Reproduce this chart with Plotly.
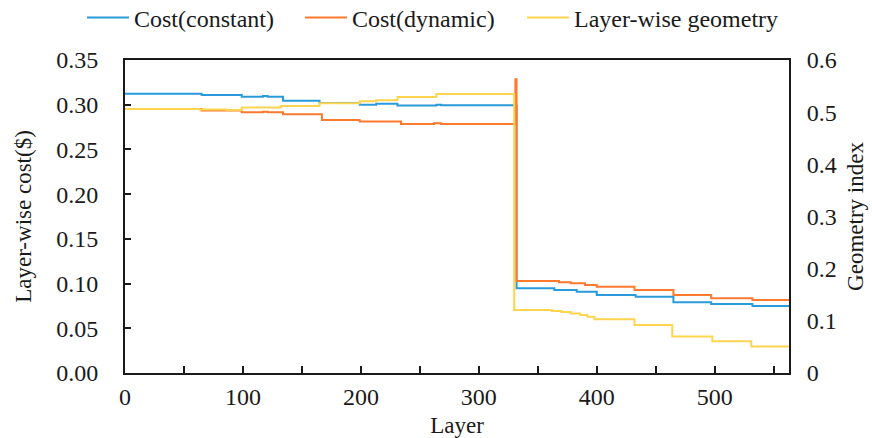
import plotly.graph_objects as go

# ---- data (step breakpoints) ----
const_layers = [0, 65, 99, 117, 121, 134, 165, 199, 213, 231, 264, 268, 332, 364, 383, 400, 433, 465, 497, 532, 563]
const_cost   = [0.3123, 0.3108, 0.3090, 0.3098, 0.3090, 0.3045, 0.3020, 0.3000, 0.3012, 0.2990, 0.3000, 0.2995,
                0.0947, 0.0928, 0.0909, 0.0872, 0.0853, 0.0792, 0.0771, 0.0749, 0.0749]

dyn_layers = [0, 65, 99, 117, 121, 134, 167, 199, 234, 262, 268, 331, 332, 368, 378, 390, 400, 432, 465, 497, 532, 563]
dyn_cost   = [0.2952, 0.2935, 0.2915, 0.2922, 0.2915, 0.2892, 0.2830, 0.2812, 0.2785, 0.2792, 0.2785, 0.3284,
              0.1028, 0.1015, 0.1003, 0.0985, 0.0965, 0.0928, 0.0872, 0.0835, 0.0816, 0.0816]

geo_layers = [0, 63, 86, 99, 132, 165, 199, 213, 231, 264, 330, 362, 370, 378, 386, 392, 398, 432, 464, 498, 531, 563]
geo_index  = [0.506, 0.505, 0.504, 0.509, 0.512, 0.517, 0.521, 0.523, 0.529, 0.535, 0.121, 0.119, 0.117, 0.114,
              0.111, 0.108, 0.103, 0.092, 0.070, 0.061, 0.051, 0.051]

names = ["Cost(constant)", "Cost(dynamic)", "Layer-wise geometry"]
colors = ["#2A9BDA", "#FF7A2F", "#FFD44F"]

FONT = "Liberation Serif, Times New Roman, serif"
INK = "#1a1a1a"

fig = go.Figure()
fig.add_trace(go.Scatter(x=const_layers, y=const_cost, mode="lines", name=names[0], legend="legend",
                         line=dict(color=colors[0], width=2, shape="hv")))
fig.add_trace(go.Scatter(x=dyn_layers, y=dyn_cost, mode="lines", name=names[1], legend="legend2",
                         line=dict(color=colors[1], width=2, shape="hv")))
fig.add_trace(go.Scatter(x=geo_layers, y=geo_index, mode="lines", name=names[2], yaxis="y2", legend="legend3",
                         line=dict(color=colors[2], width=2, shape="hv")))

axis_line = dict(showline=True, linecolor=INK, linewidth=2, showgrid=False, zeroline=False)


def leg(x_px):
    return dict(orientation="h", xref="container", yref="container", x=x_px / 872, y=1 - 18 / 438,
                xanchor="left", yanchor="middle", font=dict(size=24), itemwidth=42,
                bgcolor="rgba(0,0,0,0)", borderwidth=0)


fig.update_layout(
    width=872, height=438,
    margin=dict(l=125, r=83, t=60, b=65, autoexpand=False),
    paper_bgcolor="white", plot_bgcolor="white",
    font=dict(family=FONT, size=24, color=INK),
    showlegend=True,
    legend=leg(82), legend2=leg(300), legend3=leg(522),
    xaxis=dict(range=[0, 563], tickmode="array", tickvals=[0, 100, 200, 300, 400, 500],
               ticks="inside", ticklen=7, tickwidth=1.5, tickcolor=INK,
               minor=dict(tickmode="array", tickvals=[50, 150, 250, 350, 450, 550], ticks="inside",
                          ticklen=7, tickwidth=1.5, tickcolor=INK),
               mirror=True, ticklabelstandoff=1,
               title=dict(text="Layer", standoff=8, font=dict(size=23)), **axis_line),
    yaxis=dict(range=[0, 0.35], tickmode="array",
               tickvals=[0, 0.05, 0.10, 0.15, 0.20, 0.25, 0.30, 0.35],
               ticktext=["0.00", "0.05", "0.10", "0.15", "0.20", "0.25", "0.30", "0.35"],
               ticks="inside", ticklen=6, tickwidth=1.5, tickcolor=INK,
               ticklabelstandoff=20,
               title=dict(text="Layer-wise cost($)", standoff=18, font=dict(size=23)), **axis_line),
    yaxis2=dict(range=[0, 0.6], overlaying="y", side="right", tickmode="array",
                tickvals=[0, 0.1, 0.2, 0.3, 0.4, 0.5, 0.6],
                ticktext=["0", "0.1", "0.2", "0.3", "0.4", "0.5", "0.6"],
                ticks="", ticklabelstandoff=11,
                title=dict(text="Geometry index", standoff=11, font=dict(size=23)), **axis_line),
)

fig.write_html("out.html", config={"displayModeBar": False},
               post_script="document.body.style.margin='0';document.body.style.padding='0';")
